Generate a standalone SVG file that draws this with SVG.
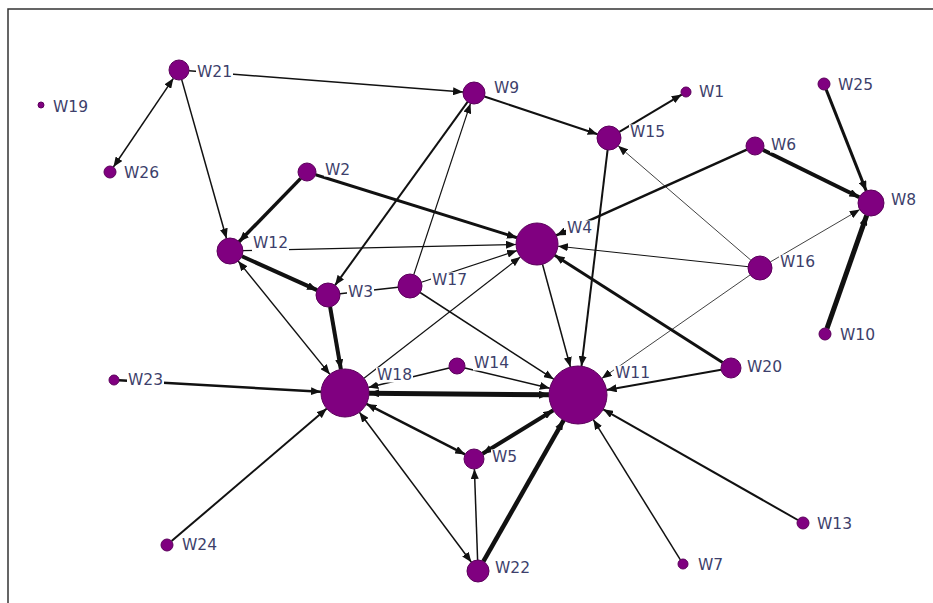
<svg xmlns="http://www.w3.org/2000/svg" width="933" height="603" viewBox="0 0 933 603">
<style>
.e{stroke:#111;fill:none}
.a{marker-end:url(#arr)}
.b{marker-start:url(#arr);marker-end:url(#arr)}
.n{fill:#800080;stroke:#5c005c;stroke-width:1}
.lb{fill:#fff}
.t{font-family:"DejaVu Sans","Verdana",sans-serif;font-size:15.5px;fill:#3d3f6b}
</style>
<defs>
<marker id="arr" markerWidth="10" markerHeight="8" refX="10" refY="4" orient="auto-start-reverse" markerUnits="userSpaceOnUse">
<path d="M0,0 L10,4 L0,8 z" fill="#111"/>
</marker>
</defs>
<rect x="0" y="0" width="933" height="603" fill="#fff"/>
<path d="M8,603 L8,9 L933,9" stroke="#333" stroke-width="1.5" fill="none"/>
<g id="connectors">
<line class="e a" x1="189.0" y1="70.8" x2="463.0" y2="92.1" stroke-width="1.5"/>
<line class="e b" x1="173.4" y1="78.3" x2="113.4" y2="167.0" stroke-width="1.5"/>
<line class="e a" x1="181.7" y1="79.6" x2="226.5" y2="238.5" stroke-width="1.5"/>
<line class="e a" x1="484.4" y1="96.5" x2="597.6" y2="134.2" stroke-width="2"/>
<line class="e a" x1="467.6" y1="101.9" x2="335.0" y2="285.3" stroke-width="2"/>
<line class="e a" x1="413.8" y1="274.6" x2="470.5" y2="103.4" stroke-width="1.2"/>
<line class="e a" x1="619.3" y1="131.8" x2="681.7" y2="94.6" stroke-width="2"/>
<line class="e a" x1="607.6" y1="149.9" x2="581.5" y2="366.2" stroke-width="2"/>
<line class="e a" x1="750.9" y1="260.2" x2="618.1" y2="145.8" stroke-width="0.8"/>
<line class="e a" x1="746.8" y1="149.7" x2="556.2" y2="235.4" stroke-width="2.5"/>
<line class="e a" x1="763.1" y1="150.0" x2="859.3" y2="197.3" stroke-width="4"/>
<line class="e a" x1="826.2" y1="89.6" x2="866.2" y2="190.9" stroke-width="3"/>
<line class="e a" x1="827.0" y1="328.3" x2="866.7" y2="215.3" stroke-width="5"/>
<line class="e a" x1="770.4" y1="261.9" x2="859.8" y2="209.6" stroke-width="0.8"/>
<line class="e a" x1="748.1" y1="266.7" x2="557.9" y2="246.2" stroke-width="1"/>
<line class="e a" x1="750.2" y1="274.9" x2="601.8" y2="378.4" stroke-width="0.8"/>
<line class="e a" x1="722.6" y1="362.6" x2="554.7" y2="255.3" stroke-width="3"/>
<line class="e a" x1="721.2" y1="369.7" x2="606.6" y2="390.0" stroke-width="2"/>
<line class="e a" x1="300.7" y1="178.4" x2="239.1" y2="241.7" stroke-width="3.5"/>
<line class="e a" x1="315.6" y1="174.7" x2="517.0" y2="237.7" stroke-width="3"/>
<line class="e a" x1="243.0" y1="250.7" x2="516.0" y2="244.5" stroke-width="1.2"/>
<line class="e a" x1="241.9" y1="256.3" x2="317.1" y2="290.1" stroke-width="4"/>
<line class="e b" x1="238.2" y1="261.1" x2="329.9" y2="374.4" stroke-width="1.5"/>
<line class="e a" x1="330.1" y1="306.8" x2="340.9" y2="369.4" stroke-width="4"/>
<line class="e" x1="398.1" y1="287.3" x2="339.9" y2="293.7" stroke-width="1.5"/>
<line class="e a" x1="420.1" y1="292.5" x2="553.7" y2="379.2" stroke-width="1.5"/>
<line class="e a" x1="364.0" y1="378.3" x2="520.4" y2="256.9" stroke-width="1.2"/>
<line class="e a" x1="421.4" y1="282.2" x2="517.1" y2="250.6" stroke-width="1.2"/>
<line class="e a" x1="449.2" y1="367.9" x2="368.3" y2="387.4" stroke-width="1.5"/>
<line class="e a" x1="464.8" y1="367.9" x2="549.8" y2="388.2" stroke-width="1.5"/>
<line class="e b" x1="369.0" y1="393.2" x2="549.0" y2="394.8" stroke-width="5"/>
<line class="e a" x1="119.0" y1="380.3" x2="321.0" y2="391.7" stroke-width="2.5"/>
<line class="e a" x1="171.6" y1="541.1" x2="326.8" y2="408.6" stroke-width="2"/>
<line class="e b" x1="366.4" y1="403.9" x2="465.1" y2="454.4" stroke-width="2.5"/>
<line class="e b" x1="359.4" y1="412.2" x2="471.4" y2="562.2" stroke-width="1.5"/>
<line class="e b" x1="482.5" y1="453.8" x2="553.3" y2="410.2" stroke-width="4"/>
<line class="e a" x1="477.6" y1="560.0" x2="474.4" y2="469.0" stroke-width="1.5"/>
<line class="e a" x1="483.4" y1="561.4" x2="563.7" y2="420.2" stroke-width="4.5"/>
<line class="e a" x1="680.4" y1="559.8" x2="593.3" y2="419.6" stroke-width="1.5"/>
<line class="e a" x1="797.8" y1="520.0" x2="603.2" y2="409.3" stroke-width="2"/>
<line class="e a" x1="542.5" y1="264.3" x2="570.4" y2="367.0" stroke-width="1.5"/>
</g>
<g id="W1"><circle class="n" cx="686" cy="92" r="5"/><rect class="lb" x="698" y="84.5" width="27" height="15"/><text class="t" x="699" y="97">W1</text></g>
<g id="W2"><circle class="n" cx="307" cy="172" r="9"/><rect class="lb" x="324" y="162.5" width="27" height="14"/><text class="t" x="325" y="175">W2</text></g>
<g id="W3"><circle class="n" cx="328" cy="295" r="12"/><rect class="lb" x="347" y="284.5" width="27" height="15"/><text class="t" x="348" y="297">W3</text></g>
<g id="W4"><circle class="n" cx="537" cy="244" r="21"/><rect class="lb" x="566" y="220.5" width="27" height="15"/><text class="t" x="567" y="233">W4</text></g>
<g id="W5"><circle class="n" cx="474" cy="459" r="10"/><rect class="lb" x="491" y="449.5" width="27" height="15"/><text class="t" x="492" y="462">W5</text></g>
<g id="W6"><circle class="n" cx="755" cy="146" r="9"/><rect class="lb" x="770" y="137.5" width="27" height="15"/><text class="t" x="771" y="150">W6</text></g>
<g id="W7"><circle class="n" cx="683" cy="564" r="5"/><rect class="lb" x="697" y="557.5" width="27" height="15"/><text class="t" x="698" y="570">W7</text></g>
<g id="W8"><circle class="n" cx="871" cy="203" r="13"/><rect class="lb" x="890" y="192.5" width="27" height="15"/><text class="t" x="891" y="205">W8</text></g>
<g id="W9"><circle class="n" cx="474" cy="93" r="11"/><rect class="lb" x="493" y="80.5" width="27" height="15"/><text class="t" x="494" y="93">W9</text></g>
<g id="W10"><circle class="n" cx="825" cy="334" r="6"/><rect class="lb" x="839" y="327.5" width="37" height="15"/><text class="t" x="840" y="340">W10</text></g>
<g id="W11"><circle class="n" cx="578" cy="395" r="29"/><rect class="lb" x="614" y="365.5" width="37" height="15"/><text class="t" x="615" y="378">W11</text></g>
<g id="W12"><circle class="n" cx="230" cy="251" r="13"/><rect class="lb" x="252" y="235.5" width="37" height="16"/><text class="t" x="253" y="248">W12</text></g>
<g id="W13"><circle class="n" cx="803" cy="523" r="6"/><rect class="lb" x="816" y="516.5" width="37" height="15"/><text class="t" x="817" y="529">W13</text></g>
<g id="W14"><circle class="n" cx="457" cy="366" r="8"/><rect class="lb" x="473" y="355.5" width="37" height="15"/><text class="t" x="474" y="368">W14</text></g>
<g id="W15"><circle class="n" cx="609" cy="138" r="12"/><rect class="lb" x="629" y="124.5" width="37" height="15"/><text class="t" x="630" y="137">W15</text></g>
<g id="W16"><circle class="n" cx="760" cy="268" r="12"/><rect class="lb" x="779" y="254.5" width="37" height="15"/><text class="t" x="780" y="267">W16</text></g>
<g id="W17"><circle class="n" cx="410" cy="286" r="12"/><rect class="lb" x="431" y="272.5" width="37" height="15"/><text class="t" x="432" y="285">W17</text></g>
<g id="W18"><circle class="n" cx="345" cy="393" r="24"/><rect class="lb" x="376" y="367.5" width="37" height="15"/><text class="t" x="377" y="380">W18</text></g>
<g id="W19"><circle class="n" cx="41" cy="105" r="3"/><rect class="lb" x="52" y="99.5" width="37" height="15"/><text class="t" x="53" y="112">W19</text></g>
<g id="W20"><circle class="n" cx="731" cy="368" r="10"/><rect class="lb" x="746" y="359.5" width="37" height="15"/><text class="t" x="747" y="372">W20</text></g>
<g id="W21"><circle class="n" cx="179" cy="70" r="10"/><rect class="lb" x="196" y="64.5" width="37" height="15"/><text class="t" x="197" y="77">W21</text></g>
<g id="W22"><circle class="n" cx="478" cy="571" r="11"/><rect class="lb" x="494" y="560.5" width="37" height="15"/><text class="t" x="495" y="573">W22</text></g>
<g id="W23"><circle class="n" cx="114" cy="380" r="5"/><rect class="lb" x="127" y="372.5" width="37" height="15"/><text class="t" x="128" y="385">W23</text></g>
<g id="W24"><circle class="n" cx="167" cy="545" r="6"/><rect class="lb" x="181" y="537.5" width="37" height="15"/><text class="t" x="182" y="550">W24</text></g>
<g id="W25"><circle class="n" cx="824" cy="84" r="6"/><rect class="lb" x="837" y="77.5" width="37" height="15"/><text class="t" x="838" y="90">W25</text></g>
<g id="W26"><circle class="n" cx="110" cy="172" r="6"/><rect class="lb" x="123" y="165.5" width="37" height="15"/><text class="t" x="124" y="178">W26</text></g>
</svg>
